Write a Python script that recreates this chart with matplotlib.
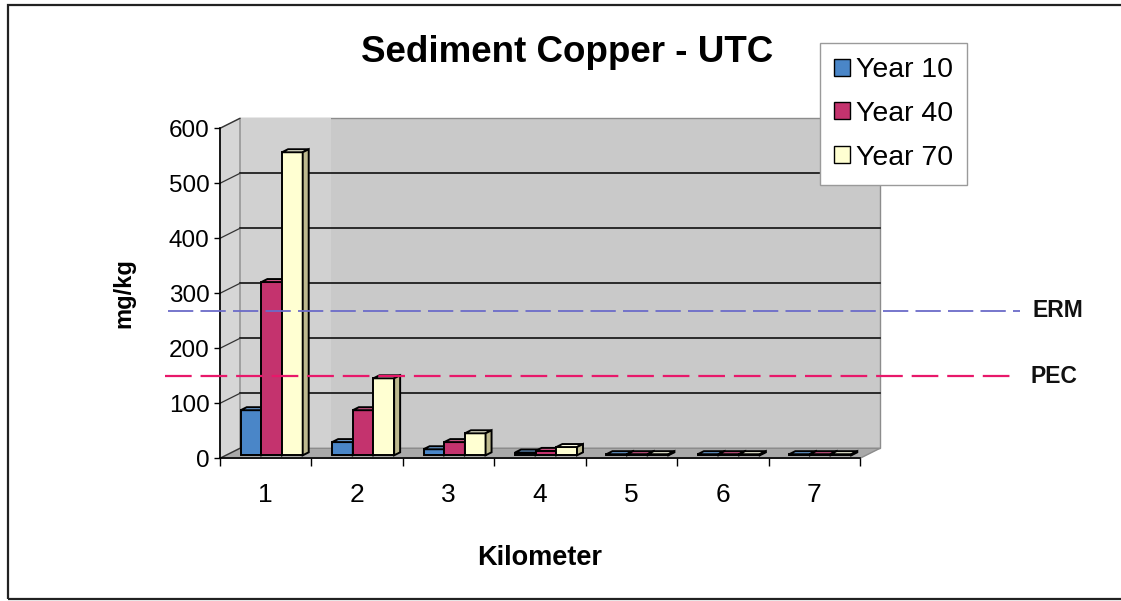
import matplotlib
matplotlib.use("Agg")
import matplotlib.pyplot as plt
from matplotlib.patches import Polygon, Patch, Rectangle

plt.rcParams['font.family'] = ['Liberation Sans', 'DejaVu Sans']

# ---------------- data ----------------
categories = [1, 2, 3, 4, 5, 6, 7]
series_names = ["Year 10", "Year 40", "Year 70"]
year10 = [82, 24, 11, 5, 2, 2, 2]
year40 = [315, 82, 24, 8, 2, 2, 2]
year70 = [551, 140, 40, 15, 2, 2, 2]
series_values = [year10, year40, year70]
erm_value = 268
pec_value = 149
yticks = [0, 100, 200, 300, 400, 500, 600]

# ---------------- styles ----------------
front_cols = ["#4A86C8", "#C4336E", "#FFFFD2"]
top_cols = ["#6EA3DA", "#D45A8A", "#FFFFE6"]
side_cols = ["#335F92", "#8A2150", "#BDB98E"]

W, H = 1121, 601
fig = plt.figure(figsize=(W / 100, H / 100), dpi=100)
fig.patch.set_facecolor("white")

x0p, x1p = 220, 860
y0p, y1p = 458.3, 128.3
ax = fig.add_axes([x0p / W, (H - y0p) / H, (x1p - x0p) / W, (y0p - y1p) / H])
ax.set_xlim(0.5, 7.5)
ax.set_ylim(0, 600)
ax.set_facecolor("none")

# depth offsets (full wall depth), in data units
DX = 20 / (x1p - x0p) * 7
DY = 10 / (y0p - y1p) * 600
xl, xr, ymax = 0.5, 7.5, 600

# back wall
ax.add_patch(Polygon([(xl + DX, DY), (xr + DX, DY), (xr + DX, ymax + DY), (xl + DX, ymax + DY)],
                     closed=True, facecolor="#C9C9C9", edgecolor="#8C8C8C", lw=1.0,
                     clip_on=False, zorder=0.5))
# lighter left part of back wall
ax.add_patch(Polygon([(xl + DX, DY), (1.5 + DX, DY), (1.5 + DX, ymax + DY), (xl + DX, ymax + DY)],
                     closed=True, facecolor="#D1D1D1", edgecolor="none",
                     clip_on=False, zorder=0.55))
# left wall
ax.add_patch(Polygon([(xl, 0), (xl + DX, DY), (xl + DX, ymax + DY), (xl, ymax)],
                     closed=True, facecolor="#D6D6D6", edgecolor="#8C8C8C", lw=1.0,
                     clip_on=False, zorder=0.6))
# floor
ax.add_patch(Polygon([(xl, 0), (xr, 0), (xr + DX, DY), (xl + DX, DY)],
                     closed=True, facecolor="#A9A9A9", edgecolor="#8C8C8C", lw=1.0,
                     clip_on=False, zorder=0.6))

# gridlines on back wall and left wall
for v in yticks:
    if 0 < v < 600:
        ax.plot([xl + DX, xr + DX], [v + DY, v + DY], color="black", lw=1.1,
                clip_on=False, zorder=0.8)
    ax.plot([xl, xl + DX], [v, v + DY], color="#333333", lw=0.9, clip_on=False, zorder=0.8)

# bars (pseudo 3D)
bw = 0.226
ox, oy = 0.3 * DX, 0.3 * DY
bx, by = 0.3 * DX, 0.3 * DY
k = 0
for ci, c in enumerate(categories):
    for si, vals in enumerate(series_values):
        v = vals[ci]
        left = c + (si - 1.5) * bw + ox
        z = 3 + k * 0.01
        k += 1
        ax.bar(left, v, width=bw, bottom=oy, align="edge", color=front_cols[si],
               edgecolor="black", linewidth=1.4, zorder=z, clip_on=False)
        top = [(left, v + oy), (left + bw, v + oy), (left + bw + bx, v + oy + by), (left + bx, v + oy + by)]
        ax.add_patch(Polygon(top, closed=True, facecolor=top_cols[si], edgecolor="black",
                             lw=1.4, zorder=z, clip_on=False))
        side = [(left + bw, oy), (left + bw + bx, oy + by), (left + bw + bx, v + oy + by), (left + bw, v + oy)]
        ax.add_patch(Polygon(side, closed=True, facecolor=side_cols[si], edgecolor="black",
                             lw=1.4, zorder=z, clip_on=False))

# axes spines / ticks
for s in ["top", "right"]:
    ax.spines[s].set_visible(False)
for s in ["left", "bottom"]:
    ax.spines[s].set_color("black")
    ax.spines[s].set_linewidth(1.2)
    ax.spines[s].set_zorder(2.5)

ax.set_yticks(yticks)
ax.set_yticklabels([str(t) for t in yticks])
ax.tick_params(axis="y", direction="out", length=4.5, width=1, pad=3, labelsize=17.5)
ax.set_xticks(categories)
ax.set_xticklabels([str(c) for c in categories])
ax.set_xticks([c - 0.5 for c in categories] + [categories[-1] + 0.5], minor=True)
ax.tick_params(axis="x", which="major", length=0, pad=18, labelsize=19)
ax.tick_params(axis="x", which="minor", direction="out", length=6, width=1)

ax.set_ylabel("mg/kg", fontsize=17, fontweight="bold")
ax.yaxis.set_label_coords((135 - x0p) / (x1p - x0p), 0.5)
ax.set_xlabel("Kilometer", fontsize=19.5, fontweight="bold")
ax.xaxis.set_label_coords(0.5, (y0p - 545) / (y0p - y1p))

# reference lines
tr = ax.get_yaxis_transform()
ax.plot([(168 - x0p) / 640, (1020 - x0p) / 640], [erm_value, erm_value], transform=tr,
        color="#6B6BC8", lw=1.3, dashes=(14, 4), clip_on=False, zorder=6)
ax.plot([(165 - x0p) / 640, (1015 - x0p) / 640], [pec_value, pec_value], transform=tr,
        color="#E8186A", lw=1.6, dashes=(12, 4), clip_on=False, zorder=6)
ax.text((1033 - x0p) / 640, erm_value, "ERM", transform=tr, ha="left", va="center",
        fontsize=16.5, fontweight="bold", color="#111111")
ax.text((1030 - x0p) / 640, pec_value, "PEC", transform=tr, ha="left", va="center",
        fontsize=16.5, fontweight="bold", color="#111111")

# title
fig.text(567 / W, 1 - 52 / H, "Sediment Copper - UTC", ha="center", va="center",
         fontsize=26.5, fontweight="bold")

# legend
handles = [Patch(facecolor=front_cols[i], edgecolor="black", lw=1.0, label=series_names[i])
           for i in range(3)]
leg = ax.legend(handles=handles, loc="upper left", bbox_to_anchor=(820 / W, 1 - 43 / H),
                bbox_transform=fig.transFigure, fontsize=20.5, frameon=True, fancybox=False,
                edgecolor="#9A9A9A", framealpha=1, borderaxespad=0, borderpad=0.5,
                handlelength=0.55, handleheight=0.55, handletextpad=0.2, labelspacing=0.62)
leg.get_frame().set_linewidth(1.0)
leg.set_zorder(20)

# outer frame
fig.patches.append(Rectangle((8 / W, 1 - 599 / H), 1.2, (599 - 5) / H, transform=fig.transFigure,
                             fill=False, edgecolor="#222222", lw=1.6, zorder=30))

fig.savefig("out.png", dpi=100)
